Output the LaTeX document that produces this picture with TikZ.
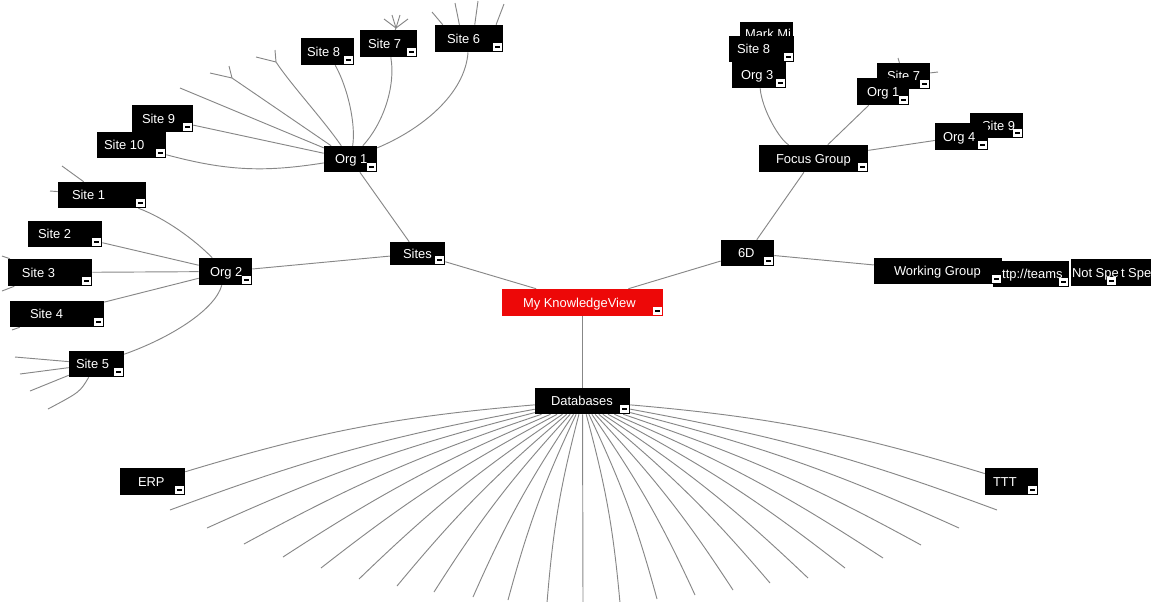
\documentclass[tikz,border=0pt]{standalone}
\usepackage{fontspec}
\setmainfont{Liberation Sans}
\pgfdeclarelayer{bg}
\pgfsetlayers{bg,main}
\definecolor{edgegray}{RGB}{135,135,135}
\definecolor{kvred}{RGB}{237,8,8}
\newcommand\kv[8][]{%
  \pgfmathsetmacro\kvw{(#5-#3)*0.75}%
  \pgfmathsetmacro\kvh{(#6-#4)*0.75}%
  \pgfmathsetmacro\kvo{(#7-(#3+#5)/2)*0.75}%
  \node[kb,minimum width=\kvw pt,minimum height=\kvh pt,#1] (#2) at ({(#3+#5)/2},{(#4+#6)/2}) {\makebox[0pt][l]{\hspace*{\kvo pt}#8}};}
\begin{document}
\begin{tikzpicture}[x=0.75pt,y=-0.75pt,
  edge/.style={draw=edgegray,line width=0.7pt},
  kb/.style={fill=black,text=white,inner sep=0pt,text height=7pt,text depth=0pt,
    font=\fontsize{9.7}{11}\selectfont,
    path picture={
      \fill[white] ([xshift=-7.5pt,yshift=0.75pt]path picture bounding box.south east) rectangle ([xshift=-0.75pt,yshift=6.75pt]path picture bounding box.south east);
      \fill[black] ([xshift=-6.3pt,yshift=3.1pt]path picture bounding box.south east) rectangle ([xshift=-1.95pt,yshift=4.5pt]path picture bounding box.south east);}},
  root/.style={fill=kvred}]
\useasboundingbox (0,0) rectangle (1151,601);
\begin{scope}
\clip (0,0) rectangle (1151,601);
% ---- nodes (drawn in stacking order) ----
\kv{sites}{390}{242}{445}{265}{403}{Sites}
\kv[root]{mkv}{502}{289}{663}{316}{523}{My KnowledgeView}
\kv{d6}{721}{240}{774}{266}{738}{6D}
\kv{db}{535}{388}{630}{414}{551}{Databases}
\kv{org1L}{324}{146}{377}{172}{335}{Org 1}
\kv{site8L}{301}{38}{354}{65}{307}{Site 8}
\kv{site7L}{360}{30}{417}{57}{368}{Site 7}
\kv{site6}{435}{25}{503}{52}{447}{Site 6}
\kv{site9L}{132}{105}{193}{132}{142}{Site 9}
\kv{site10}{97}{132}{166}{158}{104}{Site 10}
\kv{site1}{58}{182}{146}{208}{72}{Site 1}
\kv{site2}{28}{221}{102}{247}{38}{Site 2}
\kv{site3}{8}{259}{92}{286}{22}{Site 3}
\kv{site4}{10}{301}{104}{327}{30}{Site 4}
\kv{site5}{69}{351}{124}{377}{76}{Site 5}
\kv{org2}{199}{258}{252}{285}{210}{Org 2}
\kv{mark}{740}{22}{793}{46}{745}{Mark Mi}
\kv{site8R}{729}{36}{794}{62}{737}{Site 8}
\kv{org3}{732}{61}{786}{88}{741}{Org 3}
\kv{site7R}{877}{63}{930}{89}{887}{Site 7}
\kv{org1R}{857}{78}{909}{105}{867}{Org 1}
\kv{site9R}{970}{113}{1023}{138}{982}{Site 9}
\kv{org4}{935}{123}{988}{150}{943}{Org 4}
\kv{fg}{759}{145}{868}{172}{776}{Focus Group}
\kv{ns2}{1095}{259}{1162}{286}{1121}{t Spe}
\kv{ns1}{1071}{259}{1117}{286}{1072}{Not Spe}
\kv{http}{993}{261}{1069}{287}{995}{http://teams}
\kv{wg}{874}{258}{1002}{284}{894}{Working Group}
\kv{erp}{120}{468}{185}{495}{138}{ERP}
\kv{ttt}{985}{468}{1038}{495}{993}{TTT}
\end{scope}
% ---- connectors ----
\begin{pgfonlayer}{bg}
\clip (0,0) rectangle (1151,601);
% main spine
\draw[edge] (sites) -- (org1L);
\draw[edge] (sites) -- (org2);
\draw[edge] (sites) -- (mkv);
\draw[edge] (mkv) -- (d6);
\draw[edge] (mkv) -- (db);
\draw[edge] (d6) -- (fg);
\draw[edge] (d6) -- (wg);
% focus group
\draw[edge] (fg) .. controls (780,140) and (762,110) .. (org3);
\draw[edge] (fg) -- (org1R);
\draw[edge] (fg) -- (org4);
\coordinate (h1) at (938,72);
\coordinate (h2) at (898,58);
\draw[edge] (site7R) -- (h1);
\draw[edge] (site7R) -- (h2);
% org 1 (left)
\draw[edge] (org1L) .. controls (420,130) and (465,95) .. (site6);
\draw[edge] (org1L) .. controls (382,125) and (396,88) .. (site7L);
\draw[edge] (org1L) .. controls (356,125) and (348,88) .. (site8L);
\coordinate (a1) at (276,62);
\coordinate (a2) at (256,57);
\coordinate (a3) at (275,50);
\draw[edge] (org1L) .. controls (322,118) and (292,86) .. (a1);
\draw[edge] (a1) -- (a2);
\draw[edge] (a1) -- (a3);
\coordinate (b1) at (232,78);
\coordinate (b2) at (210,73);
\coordinate (b3) at (229,66);
\draw[edge] (org1L) -- (b1);
\draw[edge] (b1) -- (b2);
\draw[edge] (b1) -- (b3);
\coordinate (c1) at (180,88);
\draw[edge] (org1L) -- (c1);
\draw[edge] (org1L) -- (site9L);
\draw[edge] (org1L) to[bend left=12] (site10);
% fringes above site 6 and site 7
\coordinate (s6a) at (432,12);
\coordinate (s6b) at (455,3);
\coordinate (s6c) at (478,1);
\coordinate (s6d) at (504,4);
\draw[edge] ([xshift=6pt]site6.north west) -- (s6a);
\draw[edge] ([xshift=18.5pt]site6.north west) -- (s6b);
\draw[edge] ([xshift=30pt]site6.north west) -- (s6c);
\draw[edge] ([xshift=46pt]site6.north west) -- (s6d);
\coordinate (t0) at (396,28);
\coordinate (t1) at (384,19);
\coordinate (t2) at (392,15);
\coordinate (t3) at (400,15);
\coordinate (t4) at (408,19);
\draw[edge] (site7L) -- (t0);
\draw[edge] (t0) -- (t1);
\draw[edge] (t0) -- (t2);
\draw[edge] (t0) -- (t3);
\draw[edge] (t0) -- (t4);
% org 2
\draw[edge] (org2) .. controls (195,240) and (165,218) .. (site1);
\draw[edge] (org2) -- (site2);
\draw[edge] (org2) -- (site3);
\draw[edge] (org2) -- (site4);
\draw[edge] (org2) .. controls (215,310) and (170,338) .. (site5);
\coordinate (f1) at (62,166);
\coordinate (f2) at (50,191);
\coordinate (f3) at (2,256);
\coordinate (f4) at (2,291);
\coordinate (f5) at (12,330);
\draw[edge] (site1) -- (f1);
\draw[edge] (site1) -- (f2);
\draw[edge] (site3) -- (f3);
\draw[edge] (site3) -- (f4);
\draw[edge] (site4) -- (f5);
\coordinate (g1) at (15,357);
\coordinate (g2) at (20,374);
\coordinate (g3) at (30,391);
\coordinate (g4) at (48,409);
\draw[edge] (site5) -- (g1);
\draw[edge] (site5) -- (g2);
\draw[edge] (site5) -- (g3);
\draw[edge] (site5) .. controls (80,392) .. (g4);
% databases fan
\draw[edge] (db) to[bend right=6] (erp);
\draw[edge] (db) to[bend left=6] (ttt);
\foreach \xx/\yy [count=\i] in {170/510,207/528,244/544,283/557,321/568,359/579,397/586,434/592,473/597,508/600,547/603}{
  \coordinate (dl\i) at (\xx,\yy);
  \draw[edge] (db) to[bend right=5] (dl\i);}
\foreach \xx/\yy [count=\i] in {620/603,657/599,695/595,733/590,770/583,808/578,845/568,883/558,921/545,959/528,997/510}{
  \coordinate (dr\i) at (\xx,\yy);
  \draw[edge] (db) to[bend left=5] (dr\i);}
\coordinate (dv) at (583,605);
\draw[edge] (db) -- (dv);
\end{pgfonlayer}
\end{tikzpicture}
\end{document}
